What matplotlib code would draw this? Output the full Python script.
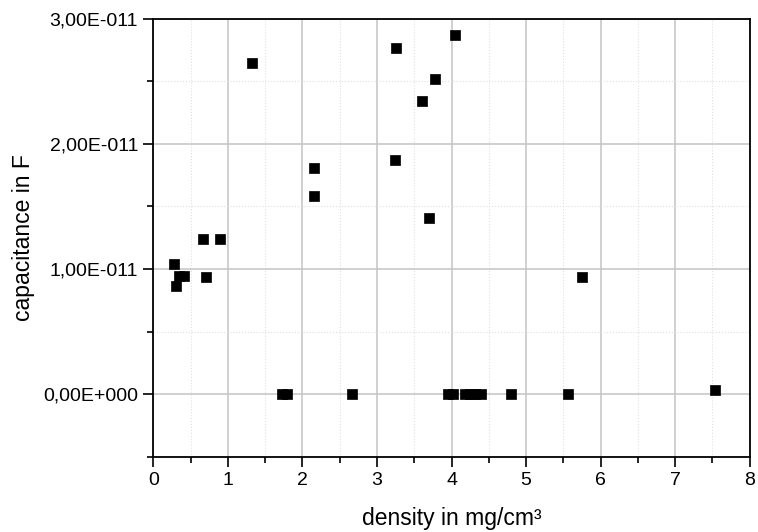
import numpy as np
import matplotlib.pyplot as plt
from matplotlib.ticker import MultipleLocator

plt.rcParams['font.family'] = ['Liberation Sans', 'DejaVu Sans']

# density in mg/cm3 and capacitance in F
density = [0.28, 0.30, 0.345, 0.41, 0.66, 0.70, 0.886,
           1.32, 1.73, 1.79, 2.15, 2.16, 2.66,
           3.24, 3.26, 3.60, 3.70, 3.78, 3.95, 4.02, 4.05,
           4.18, 4.25, 4.32, 4.39, 4.80, 5.56, 5.745, 7.54]
capacitance = [1.038, 0.862, 0.942, 0.942, 1.238, 0.939, 1.238,
               2.643, 0.0, 0.0, 1.58, 1.81, 0.0,
               1.87, 2.768, 2.344, 1.411, 2.52, 0.0, 0.0, 2.87,
               0.0, 0.0, 0.0, 0.0, 0.0, 0.0, 0.939, 0.035]
capacitance = [c * 1e-11 for c in capacitance]

y_ticks = [0.0, 1e-11, 2e-11, 3e-11]
y_tick_labels = ['0,00E+000', '1,00E-011', '2,00E-011', '3,00E-011']

fig = plt.figure(figsize=(7.58, 5.32), dpi=100)
ax = fig.add_axes([0.2025, 0.1415, 0.7863, 0.8233])

ax.scatter(density, capacitance, marker='s', s=52, color='black',
           edgecolors='black', linewidths=0.5, zorder=3)

ax.set_xlim(0, 8)
ax.set_ylim(-0.5e-11, 3e-11)
ax.xaxis.set_major_locator(MultipleLocator(1))
ax.xaxis.set_minor_locator(MultipleLocator(0.5))
ax.set_yticks(y_ticks)
ax.set_yticklabels(y_tick_labels)
ax.yaxis.set_minor_locator(MultipleLocator(0.5e-11))

ax.grid(which='major', color='#c4c4c4', linewidth=1.1, linestyle='-')
ax.grid(which='minor', color='#e0e0e0', linewidth=0.8, linestyle=':')
ax.set_axisbelow(True)

for s in ax.spines.values():
    s.set_linewidth(1.3)

ax.tick_params(which='major', direction='out', length=7, width=1.2,
               labelsize=14, colors='black', pad=4)
ax.tick_params(which='minor', direction='out', length=4, width=1.2)

ax.set_xlabel('density in mg/cm³', fontsize=16.5, labelpad=13)
ax.set_ylabel('capacitance in F', fontsize=16.5, labelpad=6)

fig.savefig('out.png', dpi=100)
